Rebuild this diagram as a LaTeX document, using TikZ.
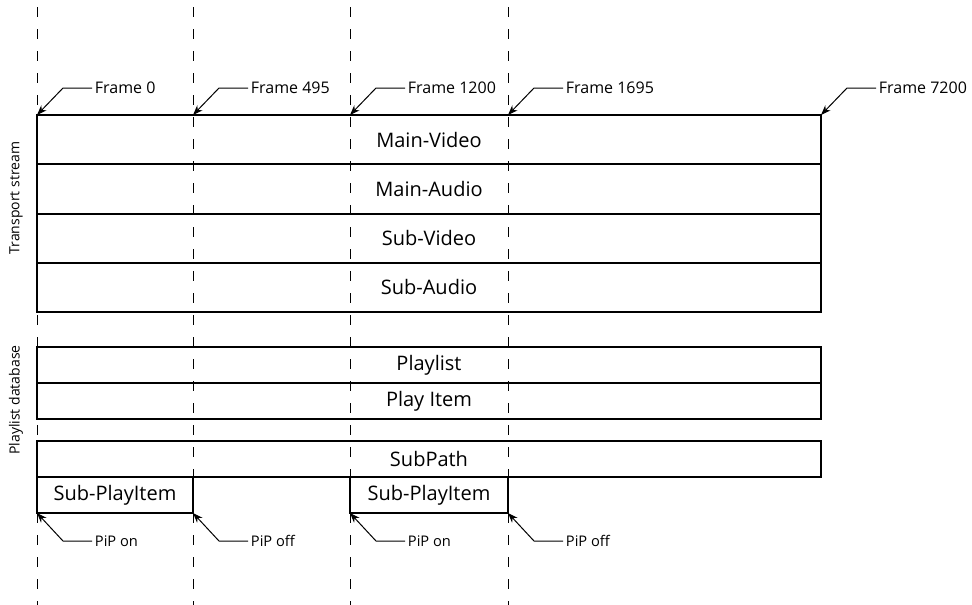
\documentclass[tikz,border=0pt]{standalone}
\usepackage{fontspec}
\setmainfont{Open Sans}
\usetikzlibrary{positioning, arrows.meta}

\begin{document}
\begin{tikzpicture}[
    x=0.75pt, y=-0.75pt,
    track/.style={rectangle, draw=black, line width=1.5pt, inner sep=0pt, outer sep=0pt,
        minimum width=588pt, font=\fontsize{15}{17}\selectfont},
    guide/.style={line width=0.65pt, dash pattern=on 7.5pt off 9pt},
    leader/.style={line width=0.75pt, -{Stealth[length=7.5pt, width=5.5pt]}},
    marklabel/.style={inner sep=2pt, anchor=west, font=\fontsize{11}{13}\selectfont},
    side/.style={rotate=90, font=\fontsize{10.5}{13}\selectfont}
]
    \useasboundingbox (0,0) rectangle (972,604);

    % Time guides
    \foreach \x in {37, 193, 350, 508}
        \draw[guide] (\x,7) -- (\x,606);

    % Transport stream
    \node[track, minimum height=36.94pt, anchor=north west] (mvideo) at (37,115) {Main-Video};
    \node[track, minimum height=36.94pt, below=0pt of mvideo] (maudio) {Main-Audio};
    \node[track, minimum height=36.94pt, below=0pt of maudio] (svideo) {Sub-Video};
    \node[track, minimum height=36.94pt, below=0pt of svideo] (saudio) {Sub-Audio};

    % Playlist database
    \node[track, minimum height=27pt, anchor=north west] (playlist) at (37,347) {Playlist};
    \node[track, minimum height=27pt, below=0pt of playlist] (playitem) {Play Item};
    \node[track, minimum height=27pt, anchor=north west] (subpath) at (37,441) {SubPath};
    \node[track, minimum height=27pt, minimum width=117pt, anchor=north west] (spion) at (subpath.south west) {Sub-PlayItem};
    \node[track, minimum height=27pt, minimum width=118.5pt, anchor=north west] (spitwo) at (350,477) {Sub-PlayItem};

    % Side labels
    \node[side] (tslabel) at (16,198) {Transport stream};
    \node[side] (pdlabel) at (16,400) {Playlist database};

    % Frame marks
    \foreach \x/\f in {37/0, 193/495, 350/1200, 508/1695, 821/7200} {
        \coordinate (tick\f) at (\x,115);
        \node[marklabel, font=\fontsize{12}{14}\selectfont] (frame\f) at (\x+55,88) {Frame \f};
        \draw[leader] (frame\f.west) -- ++(-29,0) -- (tick\f);
    }

    % PiP marks
    \foreach \x/\t/\n in {37/on/a, 193/off/b, 350/on/c, 508/off/d} {
        \coordinate (pip\n) at (\x,513);
        \node[marklabel] (piplabel\n) at (\x+55,541) {PiP \t};
        \draw[leader] (piplabel\n.west) -- ++(-29,0) -- (pip\n);
    }

\end{tikzpicture}
\end{document}
